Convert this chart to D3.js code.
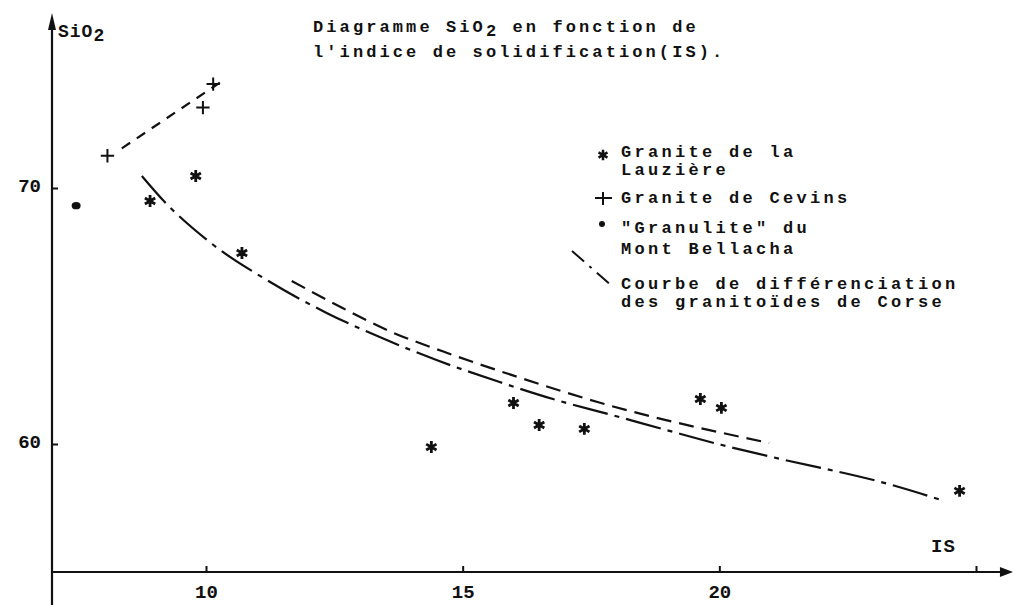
<!DOCTYPE html>
<html><head><meta charset="utf-8">
<script src="https://cdn.jsdelivr.net/npm/d3@7"></script>
<style>
body{margin:0;background:#fff}
svg{display:block;background:#fff}
text{font-family:"Liberation Mono","DejaVu Sans Mono",monospace;font-weight:bold;fill:#111}
</style>
</head><body><svg id="c" width="1015" height="605"></svg>
<script>
// ---- data ----
const xTicks = [10, 15, 20, 25];
const xTickLabels = ["10", "15", "20", ""];
const yTicks = [60, 70];
const yTickLabels = ["60", "70"];

const lauziereIS   = [8.91, 9.80, 10.70, 14.39, 15.99, 16.49, 17.37, 19.63, 20.04, 24.68];
const lauziereSiO2 = [69.49, 70.47, 67.46, 59.88, 61.60, 60.74, 60.59, 61.76, 61.41, 58.17];
const cevinsIS   = [8.08, 9.94, 10.14];
const cevinsSiO2 = [71.26, 73.14, 74.06];
const granuliteIS   = [7.47];
const granuliteSiO2 = [69.31];

const cevinsTrendIS   = [8.36, 10.37];
const cevinsTrendSiO2 = [71.55, 74.25];
const corseIS   = [8.75, 9.16, 10.07, 11.18, 12.35, 13.52, 14.49, 15.72, 16.82, 17.91, 18.96, 20.05, 21.03, 23.36, 24.33];
const corseSiO2 = [70.47, 69.53, 67.89, 66.41, 65.12, 64.06, 63.28, 62.42, 61.72, 61.13, 60.55, 59.96, 59.49, 58.40, 57.81];
const upperIS   = [11.67, 12.66, 13.63, 14.61, 16.10, 17.66, 20.97];
const upperSiO2 = [66.37, 65.31, 64.36, 63.62, 62.60, 61.62, 60.04];

const legendLabels = [
  ["Granite de la", "Lauzière"],
  ["Granite de Cevins"],
  ["\"Granulite\" du", "Mont Bellacha"],
  ["Courbe de différenciation", "des granitoïdes de Corse"]
];

// ---- drawing ----
const svg = d3.select("#c");
const ink = "#111";
const x = d3.scaleLinear().domain([7, 25]).range([52, 976]);
const y = d3.scaleLinear().domain([55, 70]).range([572, 188]);
const xEnd = 25.72, yTop = 76.84, yBottom = 53.7;

const zip = (a, b) => a.map((v, i) => [v, b[i]]);
const line = d3.line().x(d => x(d[0])).y(d => y(d[1]));
const curve = d3.line().x(d => x(d[0])).y(d => y(d[1])).curve(d3.curveMonotoneX);

// axes lines
svg.append("line").attr("x1", x(7)).attr("x2", x(7)).attr("y1", y(yBottom)).attr("y2", y(yTop) + 12)
  .attr("stroke", ink).attr("stroke-width", 2.2);
svg.append("path").attr("d", `M${x(7)},${y(yTop)} L${x(7) - 4},${y(yTop) + 17} L${x(7) + 4},${y(yTop) + 17} Z`).attr("fill", ink);
svg.append("line").attr("x1", x(7)).attr("x2", x(xEnd) - 10).attr("y1", y(55)).attr("y2", y(55))
  .attr("stroke", ink).attr("stroke-width", 2.2);
svg.append("path").attr("d", `M${x(xEnd)},${y(55)} L${x(xEnd) - 13},${y(55) - 5} L${x(xEnd) - 13},${y(55) + 5} Z`).attr("fill", ink);

const gx = svg.append("g").attr("transform", `translate(0,${y(55)})`)
  .call(d3.axisBottom(x).tickValues(xTicks).tickSize(-6).tickPadding(13)
    .tickFormat((d, i) => xTickLabels[i]));
const gy = svg.append("g").attr("transform", `translate(${x(7)},0)`)
  .call(d3.axisLeft(y).tickValues(yTicks).tickSize(-6).tickPadding(11)
    .tickFormat((d, i) => yTickLabels[i]));
[gx, gy].forEach(g => {
  g.select(".domain").remove();
  g.selectAll("line").attr("stroke", ink).attr("stroke-width", 2);
  g.selectAll("text").attr("font-size", 19).attr("fill", ink)
    .style("font-family", "'Liberation Mono', monospace").style("font-weight", "bold");
});
gy.selectAll("text").attr("dy", "0.2em");

// axis labels
const sio = svg.append("text").attr("x", x(7) + 6).attr("y", 37).attr("font-size", 18).attr("letter-spacing", 1);
sio.append("tspan").text("SiO");
sio.append("tspan").attr("dy", 4).text("2");
svg.append("text").attr("x", 931).attr("y", 552).attr("font-size", 19).attr("letter-spacing", 1).text("IS");

// title
const t1 = svg.append("text").attr("x", 313).attr("y", 32).attr("font-size", 17).attr("letter-spacing", 3.1);
t1.append("tspan").text("Diagramme SiO");
t1.append("tspan").attr("dy", 4).text("2");
t1.append("tspan").attr("dy", -4).text(" en fonction de");
svg.append("text").attr("x", 313).attr("y", 57).attr("font-size", 17).attr("letter-spacing", 3.1)
  .text("l'indice de solidification(IS).");

// curves
svg.append("path").attr("d", line(zip(cevinsTrendIS, cevinsTrendSiO2)))
  .attr("fill", "none").attr("stroke", ink).attr("stroke-width", 2.2).attr("stroke-dasharray", "10,8");
svg.append("path").attr("d", curve(zip(corseIS, corseSiO2)))
  .attr("fill", "none").attr("stroke", ink).attr("stroke-width", 2.2).attr("stroke-dasharray", "36,7,5,7");
svg.append("path").attr("d", curve(zip(upperIS, upperSiO2)))
  .attr("fill", "none").attr("stroke", ink).attr("stroke-width", 2.2).attr("stroke-dasharray", "15,8");

// markers
const star = d3.symbol(d3.symbolAsterisk, 100);
const plus = d3.symbol(d3.symbolPlus, 60);
svg.append("g").selectAll("path").data(zip(lauziereIS, lauziereSiO2)).join("path")
  .attr("transform", d => `translate(${x(d[0])},${y(d[1])})`).attr("d", star)
  .attr("fill", "none").attr("stroke", ink).attr("stroke-width", 2.8);
svg.append("g").selectAll("circle").data(zip(lauziereIS, lauziereSiO2)).join("circle")
  .attr("cx", d => x(d[0])).attr("cy", d => y(d[1])).attr("r", 2.6).attr("fill", ink);
svg.append("g").selectAll("path").data(zip(cevinsIS, cevinsSiO2)).join("path")
  .attr("transform", d => `translate(${x(d[0])},${y(d[1])})`).attr("d", plus)
  .attr("fill", "none").attr("stroke", ink).attr("stroke-width", 2);
svg.append("g").selectAll("ellipse").data(zip(granuliteIS, granuliteSiO2)).join("ellipse")
  .attr("cx", d => x(d[0])).attr("cy", d => y(d[1])).attr("rx", 4.5).attr("ry", 3.6).attr("fill", ink);

// legend
const lg = svg.append("g");
lg.append("path").attr("transform", "translate(603,155)").attr("d", d3.symbol(d3.symbolAsterisk, 75))
  .attr("fill", "none").attr("stroke", ink).attr("stroke-width", 2.5);
lg.append("path").attr("d", "M595,198 H612 M603,192 V205").attr("stroke", ink).attr("stroke-width", 2).attr("fill", "none");
lg.append("circle").attr("cx", 602).attr("cy", 224).attr("r", 3).attr("fill", ink);
lg.append("path").attr("d", "M572,251 L612,286").attr("stroke", ink).attr("stroke-width", 2)
  .attr("stroke-dasharray", "16,7,3,7").attr("fill", "none");
const legendY = [[157, 175], [203], [233, 254], [289, 307]];
legendLabels.forEach((lines, i) => {
  lines.forEach((s, j) => {
    lg.append("text").attr("x", 621).attr("y", legendY[i][j]).attr("font-size", 17)
      .attr("letter-spacing", 3.3).text(s);
  });
});
</script>
</body></html>
